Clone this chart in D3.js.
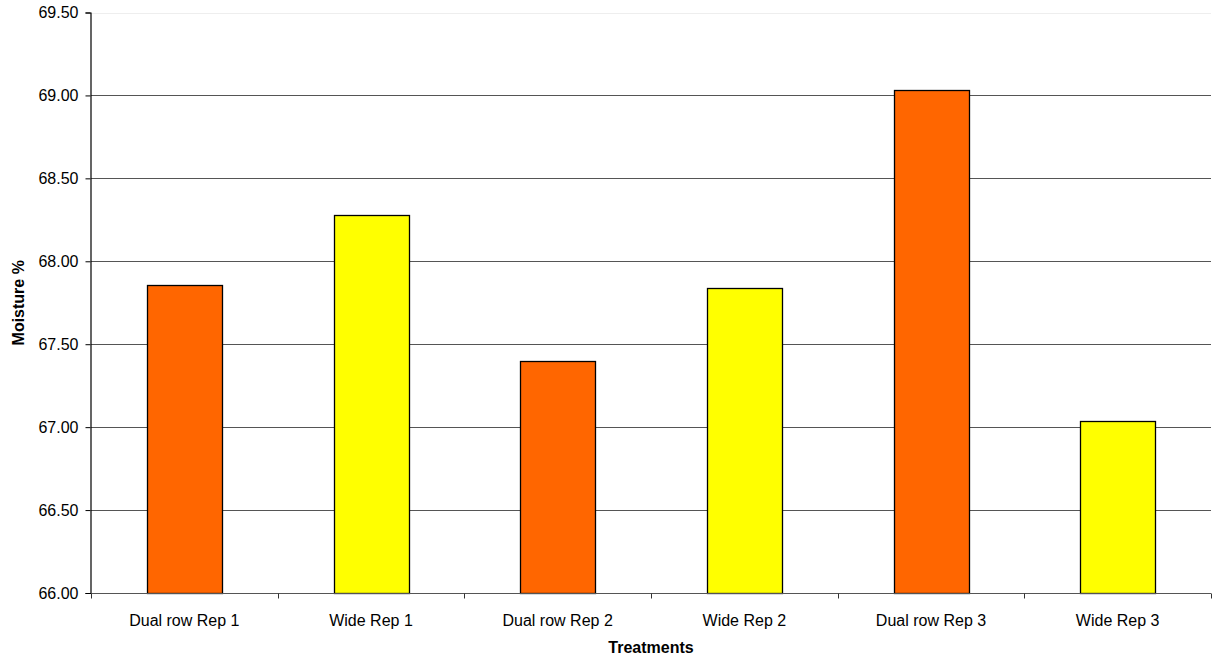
<!DOCTYPE html>
<html>
<head>
<meta charset="utf-8">
<script src="https://cdn.jsdelivr.net/npm/d3@7"></script>
<style>
  body { margin: 0; background: #fff; }
  svg { display: block; font-family: "Liberation Sans", Arial, sans-serif; }
</style>
</head>
<body>
<svg id="chart" width="1218" height="662"></svg>
<script>
// Moisture by treatment
const categories = ["Dual row Rep 1", "Wide Rep 1", "Dual row Rep 2", "Wide Rep 2", "Dual row Rep 3", "Wide Rep 3"];
const moisture = [67.86, 68.28, 67.40, 67.84, 69.03, 67.04];
const barColors = ["#FF6600", "#FFFF00", "#FF6600", "#FFFF00", "#FF6600", "#FFFF00"];
const yTicks = [66.0, 66.5, 67.0, 67.5, 68.0, 68.5, 69.0, 69.5];

const svg = d3.select("#chart");
const margin = { top: 12.5, right: 7, bottom: 69, left: 91 };
const W = 1218, H = 662;
const x0 = margin.left, x1 = W - margin.right;
const y0 = H - margin.bottom, y1 = margin.top;
const FS = 16;

const x = d3.scaleBand().domain(categories).range([x0, x1]).paddingInner(0.6).paddingOuter(0.3);
const xb = d3.scaleBand().domain(categories).range([x0, x1]);
const y = d3.scaleLinear().domain([66, 69.5]).range([y0, y1]);

// horizontal gridlines
svg.append("g").selectAll("line").data(yTicks.slice(1)).join("line")
  .attr("x1", x0).attr("x2", x1)
  .attr("y1", d => Math.round(y(d)) + 0.5).attr("y2", d => Math.round(y(d)) + 0.5)
  .attr("stroke", d => d === 69.5 ? "#eeeeee" : "#555555").attr("stroke-width", 1);

// bars
svg.append("g").selectAll("rect").data(categories).join("rect")
  .attr("x", d => Math.round(x(d)) + 0.5)
  .attr("width", Math.round(x.bandwidth()))
  .attr("y", (d, i) => Math.round(y(moisture[i])) + 0.5)
  .attr("height", (d, i) => Math.round(y0) - Math.round(y(moisture[i])))
  .attr("fill", (d, i) => barColors[i])
  .attr("stroke", "#000").attr("stroke-width", 1.3);

// y axis
const yAxis = d3.axisLeft(y).tickValues(yTicks).tickFormat(d3.format(".2f")).tickSize(5).tickPadding(7);
const gy = svg.append("g").attr("transform", `translate(${x0 - 0.5},0)`).call(yAxis);
gy.select(".domain").attr("stroke", "#000").attr("stroke-width", 1.2);
gy.selectAll(".tick line").attr("stroke", "#000");
gy.selectAll(".tick text").attr("font-size", FS).attr("fill", "#000")
  .attr("font-family", "'Liberation Sans', Arial, sans-serif");

// x axis with ticks at category boundaries
const gx = svg.append("g").attr("transform", `translate(0,${Math.round(y0) + 0.5})`);
gx.append("line").attr("x1", x0).attr("x2", x1).attr("stroke", "#555").attr("stroke-width", 1.2);
const bounds = categories.map(c => xb(c)).concat([x1]);
gx.selectAll(".xt").data(bounds).join("line").attr("class", "xt")
  .attr("x1", d => Math.round(d) + 0.5).attr("x2", d => Math.round(d) + 0.5)
  .attr("y1", 0).attr("y2", 5).attr("stroke", "#333");
gx.selectAll("text").data(categories).join("text")
  .attr("x", d => xb(d) + xb.bandwidth() / 2).attr("y", 32)
  .attr("text-anchor", "middle").attr("font-size", FS).attr("fill", "#000")
  .text(d => d);

// axis titles
svg.append("text").attr("x", (x0 + x1) / 2).attr("y", 653)
  .attr("text-anchor", "middle").attr("font-size", FS).attr("font-weight", "bold")
  .text("Treatments");
svg.append("text").attr("transform", `translate(24,${(y0 + y1) / 2}) rotate(-90)`)
  .attr("text-anchor", "middle").attr("font-size", FS).attr("font-weight", "bold")
  .text("Moisture %");
</script>
</body>
</html>
